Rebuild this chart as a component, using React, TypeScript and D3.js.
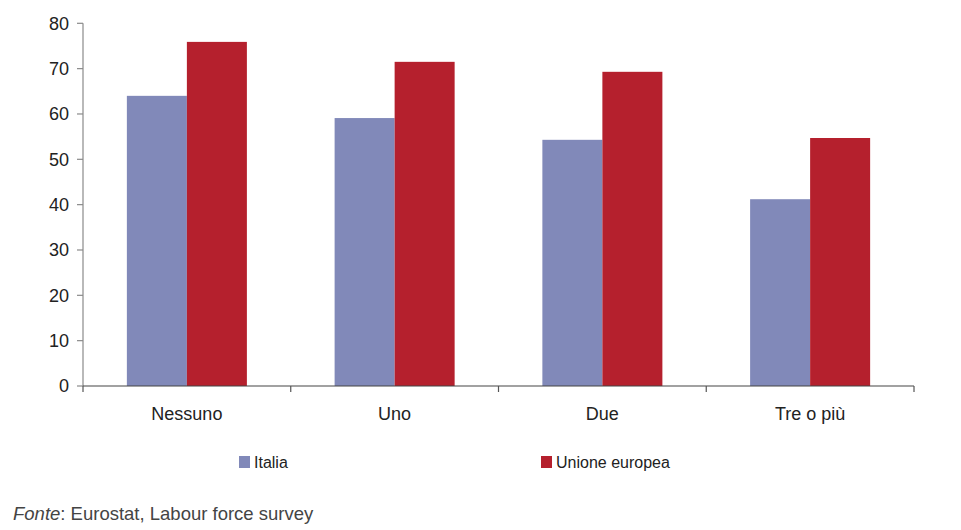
import React from "react";
import * as d3 from "d3";

const categories = ["Nessuno", "Uno", "Due", "Tre o più"];
const seriesNames = ["Italia", "Unione europea"];
const italia = [64.0, 59.1, 54.3, 41.2];
const ue = [75.9, 71.5, 69.3, 54.7];
const yTicks = [0, 10, 20, 30, 40, 50, 60, 70, 80];
const colors = ["#8189b9", "#b5202d"];

const W = 961;
const H = 530;
const FONT = "'Liberation Sans', Arial, Helvetica, sans-serif";

export default function App() {
  const x0 = d3.scaleBand<string>().domain(categories).range([83, 914]).padding(0);
  const x1 = d3
    .scaleBand<string>()
    .domain(seriesNames)
    .range([0, x0.bandwidth()])
    .paddingInner(0)
    .paddingOuter(0.731);
  const y = d3.scaleLinear().domain([0, 80]).range([386, 23.3]);
  const values = [italia, ue];

  return (
    <svg width={W} height={H} style={{ position: "absolute", left: 0, top: 0, background: "#fff" }}>
      <rect x={0} y={0} width={W} height={H} fill="#fff" />
      {categories.map((c, i) =>
        seriesNames.map((s, j) => (
          <rect
            key={c + s}
            x={(x0(c) ?? 0) + (x1(s) ?? 0)}
            y={y(values[j][i])}
            width={x1.bandwidth()}
            height={y(0) - y(values[j][i])}
            fill={colors[j]}
          />
        ))
      )}
      {/* y axis */}
      <line x1={83} x2={83} y1={y(80)} y2={y(0)} stroke="#8a8a8a" strokeWidth={1.2} />
      {yTicks.map((t) => (
        <g key={t}>
          <line x1={77} x2={83} y1={y(t)} y2={y(t)} stroke="#8a8a8a" strokeWidth={1.2} />
          <text
            x={69}
            y={y(t)}
            dy="0.35em"
            textAnchor="end"
            fontFamily={FONT}
            fontSize={18}
            fill="#222"
          >
            {t}
          </text>
        </g>
      ))}
      {/* x axis */}
      <line x1={83} x2={914} y1={y(0)} y2={y(0)} stroke="#444" strokeWidth={1.2} />
      {[...categories.map((c) => x0(c) ?? 0), 914].map((xv, i) => (
        <line key={i} x1={xv} x2={xv} y1={y(0)} y2={y(0) + 6} stroke="#555" strokeWidth={1.2} />
      ))}
      {categories.map((c) => (
        <text
          key={c}
          x={(x0(c) ?? 0) + x0.bandwidth() / 2}
          y={420}
          textAnchor="middle"
          fontFamily={FONT}
          fontSize={18}
          fill="#222"
        >
          {c}
        </text>
      ))}
      {/* legend */}
      {[239, 541].map((lx, j) => (
        <g key={j}>
          <rect x={lx} y={456} width={11} height={12} fill={colors[j]} />
          <text x={lx + 15} y={468} fontFamily={FONT} fontSize={16} fill="#222">
            {seriesNames[j]}
          </text>
        </g>
      ))}
      <text x={13} y={520} fontFamily={FONT} fontSize={18.5} fill="#444">
        <tspan fontStyle="italic">Fonte</tspan>: Eurostat, Labour force survey
      </text>
    </svg>
  );
}
